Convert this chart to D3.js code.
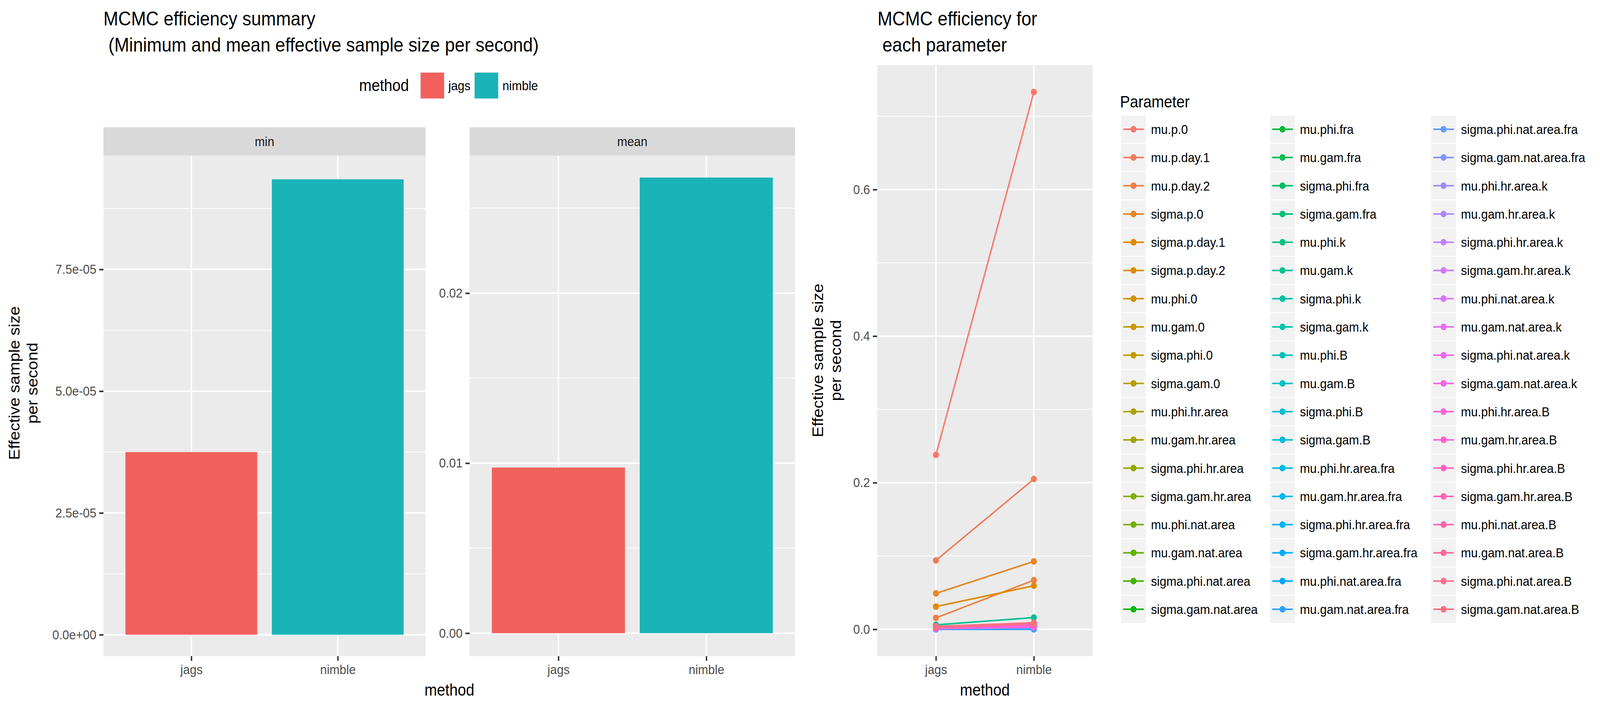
<!DOCTYPE html>
<html><head><meta charset="utf-8">
<script src="https://cdn.jsdelivr.net/npm/d3@7"></script>
<style>html,body{margin:0;padding:0;background:#fff;overflow:hidden}svg{display:block;width:100vw;height:100vh}text{font-family:"Liberation Sans",Arial,sans-serif}</style>
</head><body>
<script>
var methods = ['jags', 'nimble'];
var minValues = [3.75e-5, 9.35e-5];
var meanValues = [0.00974, 0.0268];
var minTicks = [0, 2.5e-5, 5e-5, 7.5e-5];
var minTickLabels = ['0.0e+00', '2.5e-05', '5.0e-05', '7.5e-05'];
var meanTicks = [0, 0.01, 0.02];
var meanTickLabels = ['0.00', '0.01', '0.02'];
var paramTicks = [0, 0.2, 0.4, 0.6];
var paramTickLabels = ['0.0', '0.2', '0.4', '0.6'];

var params = ['mu.p.0','mu.p.day.1','mu.p.day.2','sigma.p.0','sigma.p.day.1','sigma.p.day.2',
  'mu.phi.0','mu.gam.0','sigma.phi.0','sigma.gam.0','mu.phi.hr.area','mu.gam.hr.area',
  'sigma.phi.hr.area','sigma.gam.hr.area','mu.phi.nat.area','mu.gam.nat.area','sigma.phi.nat.area','sigma.gam.nat.area',
  'mu.phi.fra','mu.gam.fra','sigma.phi.fra','sigma.gam.fra','mu.phi.k','mu.gam.k',
  'sigma.phi.k','sigma.gam.k','mu.phi.B','mu.gam.B','sigma.phi.B','sigma.gam.B',
  'mu.phi.hr.area.fra','mu.gam.hr.area.fra','sigma.phi.hr.area.fra','sigma.gam.hr.area.fra','mu.phi.nat.area.fra','mu.gam.nat.area.fra',
  'sigma.phi.nat.area.fra','sigma.gam.nat.area.fra','mu.phi.hr.area.k','mu.gam.hr.area.k','sigma.phi.hr.area.k','sigma.gam.hr.area.k',
  'mu.phi.nat.area.k','mu.gam.nat.area.k','sigma.phi.nat.area.k','sigma.gam.nat.area.k','mu.phi.hr.area.B','mu.gam.hr.area.B',
  'sigma.phi.hr.area.B','sigma.gam.hr.area.B','mu.phi.nat.area.B','mu.gam.nat.area.B','sigma.phi.nat.area.B','sigma.gam.nat.area.B'];
// ESS per second: [jags, nimble]
var jagsEss = [0.238,0.094,0.0156,0.049,0.031,0.002,0.001,0.002,0.001,0.001,0.002,0.001,
  0.001,0.001,0.002,0.001,0.001,0.001,0.002,0.001,0.001,0.001,0.003,0.006,
  0.002,0.001,0.004,0.002,0.001,0.001,0.001,0.001,0.001,0.001,0.0,0.0,
  0.001,0.001,0.002,0.001,0.001,0.001,0.002,0.001,0.001,0.001,0.002,0.003,
  0.002,0.002,0.003,0.004,0.003,0.004];
var nimbleEss = [0.733,0.205,0.067,0.0926,0.0594,0.004,0.003,0.004,0.002,0.002,0.004,0.003,
  0.002,0.002,0.004,0.003,0.002,0.002,0.004,0.003,0.002,0.002,0.005,0.016,
  0.004,0.003,0.006,0.004,0.003,0.002,0.002,0.002,0.002,0.002,0.0,0.0,
  0.003,0.002,0.005,0.004,0.003,0.003,0.005,0.004,0.004,0.003,0.006,0.007,
  0.006,0.006,0.008,0.009,0.008,0.008];

// R-style hcl (polar LUV) -> hex
function hclR(h, c, l) {
  var hr = h * Math.PI / 180, u = c * Math.cos(hr), v = c * Math.sin(hr);
  var Y = l > 8 ? Math.pow((l + 16) / 116, 3) : l / 903.3;
  var un = 0.1978398, vn = 0.4683363;
  var up = u / (13 * l) + un, vp = v / (13 * l) + vn;
  var X = Y * 9 * up / (4 * vp), Z = Y * (12 - 3 * up - 20 * vp) / (4 * vp);
  var r = 3.240479 * X - 1.53715 * Y - 0.498535 * Z;
  var g = -0.969256 * X + 1.875992 * Y + 0.041556 * Z;
  var b = 0.055648 * X - 0.204043 * Y + 1.057311 * Z;
  function gam(x) { x = x <= 0.0031308 ? 12.92 * x : 1.055 * Math.pow(x, 1 / 2.4) - 0.055; return Math.round(255 * Math.max(0, Math.min(1, x))); }
  return d3.rgb(gam(r), gam(g), gam(b)).formatHex();
}
function huePal(n) { var out = []; for (var i = 0; i < n; i++) out.push(hclR(15 + 360 * i / n, 100, 65)); return out; }
var methodColors = ['#f2605c', '#1ab3b7'];
var paramColors = huePal(params.length);

var svg = d3.select('body').append('svg').attr('viewBox', '0 0 4500 1800').attr('preserveAspectRatio', 'none');
var tickCol = '#4d4d4d';

function title(x, lines) {
  var t = svg.append('text').attr('x', x).attr('font-size', 50).attr('fill', '#000');
  lines.forEach(function(s, i) { t.append('tspan').attr('x', x).attr('y', 65 + i * 67).text(s); });
}
title(291, ['MCMC efficiency summary', ' (Minimum and mean effective sample size per second)']);
title(2468, ['MCMC efficiency for', ' each parameter']);

function yTitle(x, y) {
  var t = svg.append('text').attr('transform', 'translate(' + x + ',' + y + ') rotate(-90)')
    .attr('text-anchor', 'middle').attr('font-size', 42).attr('fill', '#000');
  t.append('tspan').attr('x', 0).attr('y', 0).text('Effective sample size');
  t.append('tspan').attr('x', 0).attr('y', 50).text('per second');
}
yTitle(55, 981);
yTitle(2315, 923);

function panel(x0, x1, y0, y1, domain, ticks, labels, minor) {
  var y = d3.scaleLinear().domain(domain).range([y1, y0]);
  var x = d3.scaleLinear().domain([0.4, 2.6]).range([x0, x1]);
  var g = svg.append('g');
  g.append('rect').attr('x', x0).attr('y', y0).attr('width', x1 - x0).attr('height', y1 - y0).attr('fill', '#ebebeb');
  minor.forEach(function(v) { g.append('line').attr('x1', x0).attr('x2', x1).attr('y1', y(v)).attr('y2', y(v)).attr('stroke', '#fff').attr('stroke-width', 2); });
  ticks.forEach(function(v) { g.append('line').attr('x1', x0).attr('x2', x1).attr('y1', y(v)).attr('y2', y(v)).attr('stroke', '#fff').attr('stroke-width', 4); });
  [1, 2].forEach(function(v) { g.append('line').attr('y1', y0).attr('y2', y1).attr('x1', x(v)).attr('x2', x(v)).attr('stroke', '#fff').attr('stroke-width', 4); });
  var ax = d3.axisLeft(y).tickValues(ticks).tickFormat(function(d, i) { return labels[i]; }).tickSize(12).tickPadding(8);
  var ag = g.append('g').attr('transform', 'translate(' + x0 + ',0)').call(ax);
  ag.select('.domain').remove();
  ag.selectAll('line').attr('stroke', '#333').attr('stroke-width', 4);
  ag.selectAll('text').attr('font-size', 34).attr('fill', tickCol).attr('font-family', '"Liberation Sans",Arial,sans-serif');
  var bx = d3.axisBottom(x).tickValues([1, 2]).tickFormat(function(d) { return methods[d - 1]; }).tickSize(12).tickPadding(10);
  var bg = g.append('g').attr('transform', 'translate(0,' + y1 + ')').call(bx);
  bg.select('.domain').remove();
  bg.selectAll('line').attr('stroke', '#333').attr('stroke-width', 4);
  bg.selectAll('text').attr('font-size', 34).attr('fill', tickCol).attr('font-family', '"Liberation Sans",Arial,sans-serif');
  return { x: x, y: y, g: g };
}

function strip(x0, x1, label) {
  svg.append('rect').attr('x', x0).attr('y', 326).attr('width', x1 - x0).attr('height', 72).attr('fill', '#d9d9d9');
  svg.append('text').attr('x', (x0 + x1) / 2).attr('y', 374).attr('text-anchor', 'middle').attr('font-size', 34).attr('fill', '#1a1a1a').text(label);
}

function bars(p, vals) {
  p.g.selectAll('rect.bar').data(vals).enter().append('rect').attr('class', 'bar')
    .attr('x', function(d, i) { return p.x(i + 1 - 0.45); })
    .attr('width', function(d, i) { return p.x(i + 1.45) - p.x(i + 0.55); })
    .attr('y', function(d) { return p.y(d); })
    .attr('height', function(d) { return p.y(0) - p.y(d); })
    .attr('fill', function(d, i) { return methodColors[i]; });
}

strip(291, 1197, 'min');
var pMin = panel(291, 1197, 398, 1680, [-4.4e-6, 9.84e-5], minTicks, minTickLabels, [1.25e-5, 3.75e-5, 6.25e-5, 8.75e-5]);
bars(pMin, minValues);
strip(1321, 2236, 'mean');
var pMean = panel(1321, 2236, 398, 1680, [-0.00135, 0.0281], meanTicks, meanTickLabels, [0.005, 0.015, 0.025]);
bars(pMean, meanValues);
svg.append('text').attr('x', 1264).attr('y', 1781).attr('text-anchor', 'middle').attr('font-size', 42).text('method');

// method legend
svg.append('text').attr('x', 1010).attr('y', 233).attr('font-size', 42).text('method');
methods.forEach(function(m, i) {
  var kx = [1181, 1333][i];
  svg.append('rect').attr('x', kx).attr('y', 184).attr('width', 70).attr('height', 70).attr('fill', '#f2f2f2');
  svg.append('rect').attr('x', kx + 2).attr('y', 186).attr('width', 66).attr('height', 66).attr('fill', methodColors[i]);
  svg.append('text').attr('x', kx + 80).attr('y', 231).attr('font-size', 34).text(m);
});

// parameter panel
var pPar = panel(2467, 3073, 167, 1680, [-0.0366, 0.7696], paramTicks, paramTickLabels, [0.1, 0.3, 0.5, 0.7]);
var line = d3.line().x(function(d) { return pPar.x(d[0]); }).y(function(d) { return pPar.y(d[1]); });
params.forEach(function(p, i) {
  var pts = [[1, jagsEss[i]], [2, nimbleEss[i]]];
  pPar.g.append('path').attr('d', line(pts)).attr('stroke', paramColors[i]).attr('stroke-width', 4).attr('fill', 'none');
  pts.forEach(function(q) {
    pPar.g.append('circle').attr('cx', pPar.x(q[0])).attr('cy', pPar.y(q[1])).attr('r', 8.5).attr('fill', paramColors[i]);
  });
});
svg.append('text').attr('x', 2770).attr('y', 1781).attr('text-anchor', 'middle').attr('font-size', 42).text('method');

// parameter legend
svg.append('text').attr('x', 3150).attr('y', 275).attr('font-size', 42).text('Parameter');
var colX = [3153, 3572, 4025];
params.forEach(function(p, i) {
  var c = Math.floor(i / 18), r = i % 18;
  var kx = colX[c], ky = 296 + r * 72.3;
  var g = svg.append('g');
  g.append('rect').attr('x', kx).attr('y', ky).attr('width', 70).attr('height', 70).attr('fill', '#f2f2f2');
  g.append('line').attr('x1', kx + 6).attr('x2', kx + 64).attr('y1', ky + 35).attr('y2', ky + 35).attr('stroke', paramColors[i]).attr('stroke-width', 4);
  g.append('circle').attr('cx', kx + 35).attr('cy', ky + 35).attr('r', 8.5).attr('fill', paramColors[i]);
  g.append('text').attr('x', kx + 84).attr('y', ky + 47).attr('font-size', 34).text(p);
});
</script>
</body></html>
